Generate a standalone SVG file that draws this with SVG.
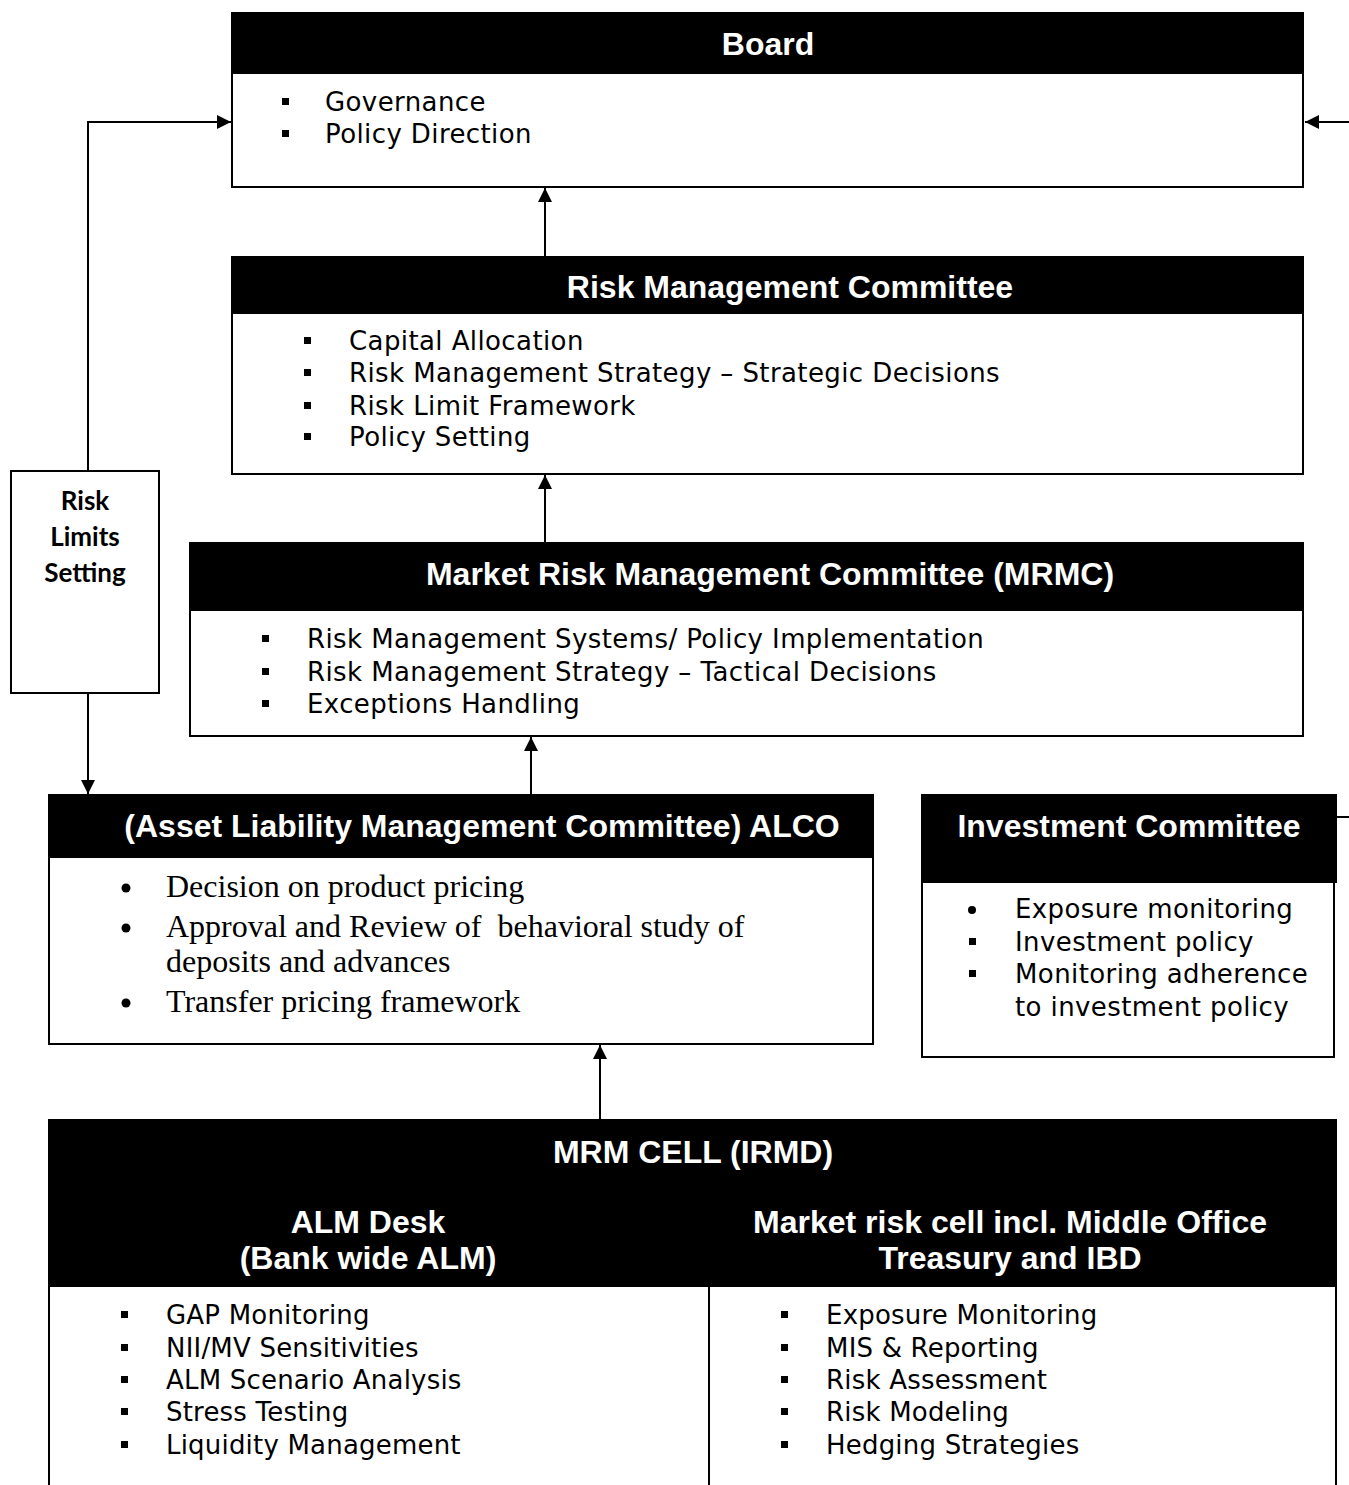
<svg xmlns="http://www.w3.org/2000/svg" width="1349" height="1485" viewBox="0 0 1349 1485">
<style>
.box{fill:#fff;stroke:#000;stroke-width:2}
.hdr{fill:#000;stroke:#000;stroke-width:2}
.ht{font-family:"Liberation Sans",Arial,sans-serif;font-weight:bold;font-size:32px;fill:#fff;text-anchor:middle}
.bt{font-family:"DejaVu Sans",Verdana,sans-serif;font-size:26px;letter-spacing:0.4px;fill:#000}
.bt2{font-family:"DejaVu Sans",Tahoma,sans-serif;font-size:26px;letter-spacing:0.2px;fill:#000}
.tt{font-family:"Liberation Serif","Times New Roman",serif;font-size:32px;fill:#000}
.rl{font-family:Lato,"Open Sans",sans-serif;font-weight:bold;font-size:26px;fill:#000;text-anchor:middle}
.sq{fill:#000}
.cn{fill:none;stroke:#000;stroke-width:2}
</style>
<defs>
<marker id="ah" viewBox="0 0 10 10" refX="10" refY="5" markerWidth="15" markerHeight="14" markerUnits="userSpaceOnUse" orient="auto">
<path d="M0,0 L10,5 L0,10 z" fill="#000"/>
</marker>
</defs>
<rect width="1349" height="1485" fill="#fff"/>

<g id="connectors">
<path class="cn" d="M1349,122 H1305" marker-end="url(#ah)"/>
<path class="cn" d="M88,471 V122 H231" marker-end="url(#ah)"/>
<path class="cn" d="M88,693 V794" marker-end="url(#ah)"/>
<path class="cn" d="M545,257 V188" marker-end="url(#ah)"/>
<path class="cn" d="M545,543 V475" marker-end="url(#ah)"/>
<path class="cn" d="M531,795 V737" marker-end="url(#ah)"/>
<path class="cn" d="M600,1120 V1045" marker-end="url(#ah)"/>
<path class="cn" d="M1336,817 H1349"/>
</g>

<g id="board">
<rect class="box" x="232" y="73" width="1071" height="114"/>
<rect class="hdr" x="232" y="13" width="1071" height="60"/>
<text class="ht" x="768" y="55">Board</text>
<rect class="sq" x="282" y="98" width="7" height="7"/>
<rect class="sq" x="282" y="130" width="7" height="7"/>
<text class="bt" x="325" y="111">Governance</text>
<text class="bt" x="325" y="143">Policy Direction</text>
</g>

<g id="rmc">
<rect class="box" x="232" y="313" width="1071" height="161"/>
<rect class="hdr" x="232" y="257" width="1071" height="56"/>
<text class="ht" x="790" y="298">Risk Management Committee</text>
<rect class="sq" x="304" y="337" width="7" height="7"/>
<rect class="sq" x="304" y="369" width="7" height="7"/>
<rect class="sq" x="304" y="402" width="7" height="7"/>
<rect class="sq" x="304" y="433" width="7" height="7"/>
<text class="bt" x="349" y="350">Capital Allocation</text>
<text class="bt" x="349" y="382">Risk Management Strategy – Strategic Decisions</text>
<text class="bt" x="349" y="415">Risk Limit Framework</text>
<text class="bt" x="349" y="446">Policy Setting</text>
</g>

<g id="mrmc">
<rect class="box" x="190" y="610" width="1113" height="126"/>
<rect class="hdr" x="190" y="543" width="1113" height="67"/>
<text class="ht" x="770" y="585">Market Risk Management Committee (MRMC)</text>
<rect class="sq" x="262" y="635" width="7" height="7"/>
<rect class="sq" x="262" y="668" width="7" height="7"/>
<rect class="sq" x="262" y="700" width="7" height="7"/>
<text class="bt" x="307" y="648">Risk Management Systems/ Policy Implementation</text>
<text class="bt" x="307" y="681">Risk Management Strategy – Tactical Decisions</text>
<text class="bt" x="307" y="713">Exceptions Handling</text>
</g>

<g id="risk-limits">
<rect class="box" x="11" y="471" width="148" height="222"/>
<text class="rl" x="85" y="510">Risk</text>
<text class="rl" x="85" y="546">Limits</text>
<text class="rl" x="85" y="582">Setting</text>
</g>

<g id="alco">
<rect class="box" x="49" y="857" width="824" height="187"/>
<rect class="hdr" x="49" y="795" width="824" height="62"/>
<text class="ht" x="482" y="837">(Asset Liability Management Committee) ALCO</text>
<circle class="sq" cx="126" cy="888" r="4.5"/>
<circle class="sq" cx="126" cy="928" r="4.5"/>
<circle class="sq" cx="126" cy="1003" r="4.5"/>
<text class="tt" x="166" y="897">Decision on product pricing</text>
<text class="tt" x="166" y="937" xml:space="preserve">Approval and Review of  behavioral study of</text>
<text class="tt" x="166" y="972">deposits and advances</text>
<text class="tt" x="166" y="1012">Transfer pricing framework</text>
</g>

<g id="investment">
<rect class="box" x="922" y="882" width="412" height="175"/>
<rect class="hdr" x="922" y="795" width="414" height="87"/>
<text class="ht" x="1129" y="837">Investment Committee</text>
<circle class="sq" cx="972" cy="910" r="4"/>
<rect class="sq" x="969" y="938" width="7" height="7"/>
<rect class="sq" x="969" y="970" width="7" height="7"/>
<text class="bt" x="1015" y="918">Exposure monitoring</text>
<text class="bt" x="1015" y="951">Investment policy</text>
<text class="bt" x="1015" y="983">Monitoring adherence</text>
<text class="bt" x="1015" y="1016">to investment policy</text>
</g>

<g id="mrm-cell">
<rect class="box" x="49" y="1286" width="660" height="210"/>
<rect class="box" x="709" y="1286" width="627" height="210"/>
<rect class="hdr" x="49" y="1120" width="1287" height="164"/>
<text class="ht" x="693" y="1163">MRM CELL (IRMD)</text>
<text class="ht" x="368" y="1233">ALM Desk</text>
<text class="ht" x="368" y="1269">(Bank wide ALM)</text>
<text class="ht" x="1010" y="1233">Market risk cell incl. Middle Office</text>
<text class="ht" x="1010" y="1269">Treasury and IBD</text>
<rect class="sq" x="121" y="1311" width="7" height="7"/>
<rect class="sq" x="121" y="1344" width="7" height="7"/>
<rect class="sq" x="121" y="1376" width="7" height="7"/>
<rect class="sq" x="121" y="1408" width="7" height="7"/>
<rect class="sq" x="121" y="1441" width="7" height="7"/>
<text class="bt2" x="166" y="1324">GAP Monitoring</text>
<text class="bt2" x="166" y="1357">NII/MV Sensitivities</text>
<text class="bt2" x="166" y="1389">ALM Scenario Analysis</text>
<text class="bt2" x="166" y="1421">Stress Testing</text>
<text class="bt2" x="166" y="1454">Liquidity Management</text>
<rect class="sq" x="781" y="1311" width="7" height="7"/>
<rect class="sq" x="781" y="1344" width="7" height="7"/>
<rect class="sq" x="781" y="1376" width="7" height="7"/>
<rect class="sq" x="781" y="1408" width="7" height="7"/>
<rect class="sq" x="781" y="1441" width="7" height="7"/>
<text class="bt2" x="826" y="1324">Exposure Monitoring</text>
<text class="bt2" x="826" y="1357">MIS &amp; Reporting</text>
<text class="bt2" x="826" y="1389">Risk Assessment</text>
<text class="bt2" x="826" y="1421">Risk Modeling</text>
<text class="bt2" x="826" y="1454">Hedging Strategies</text>
</g>
</svg>
